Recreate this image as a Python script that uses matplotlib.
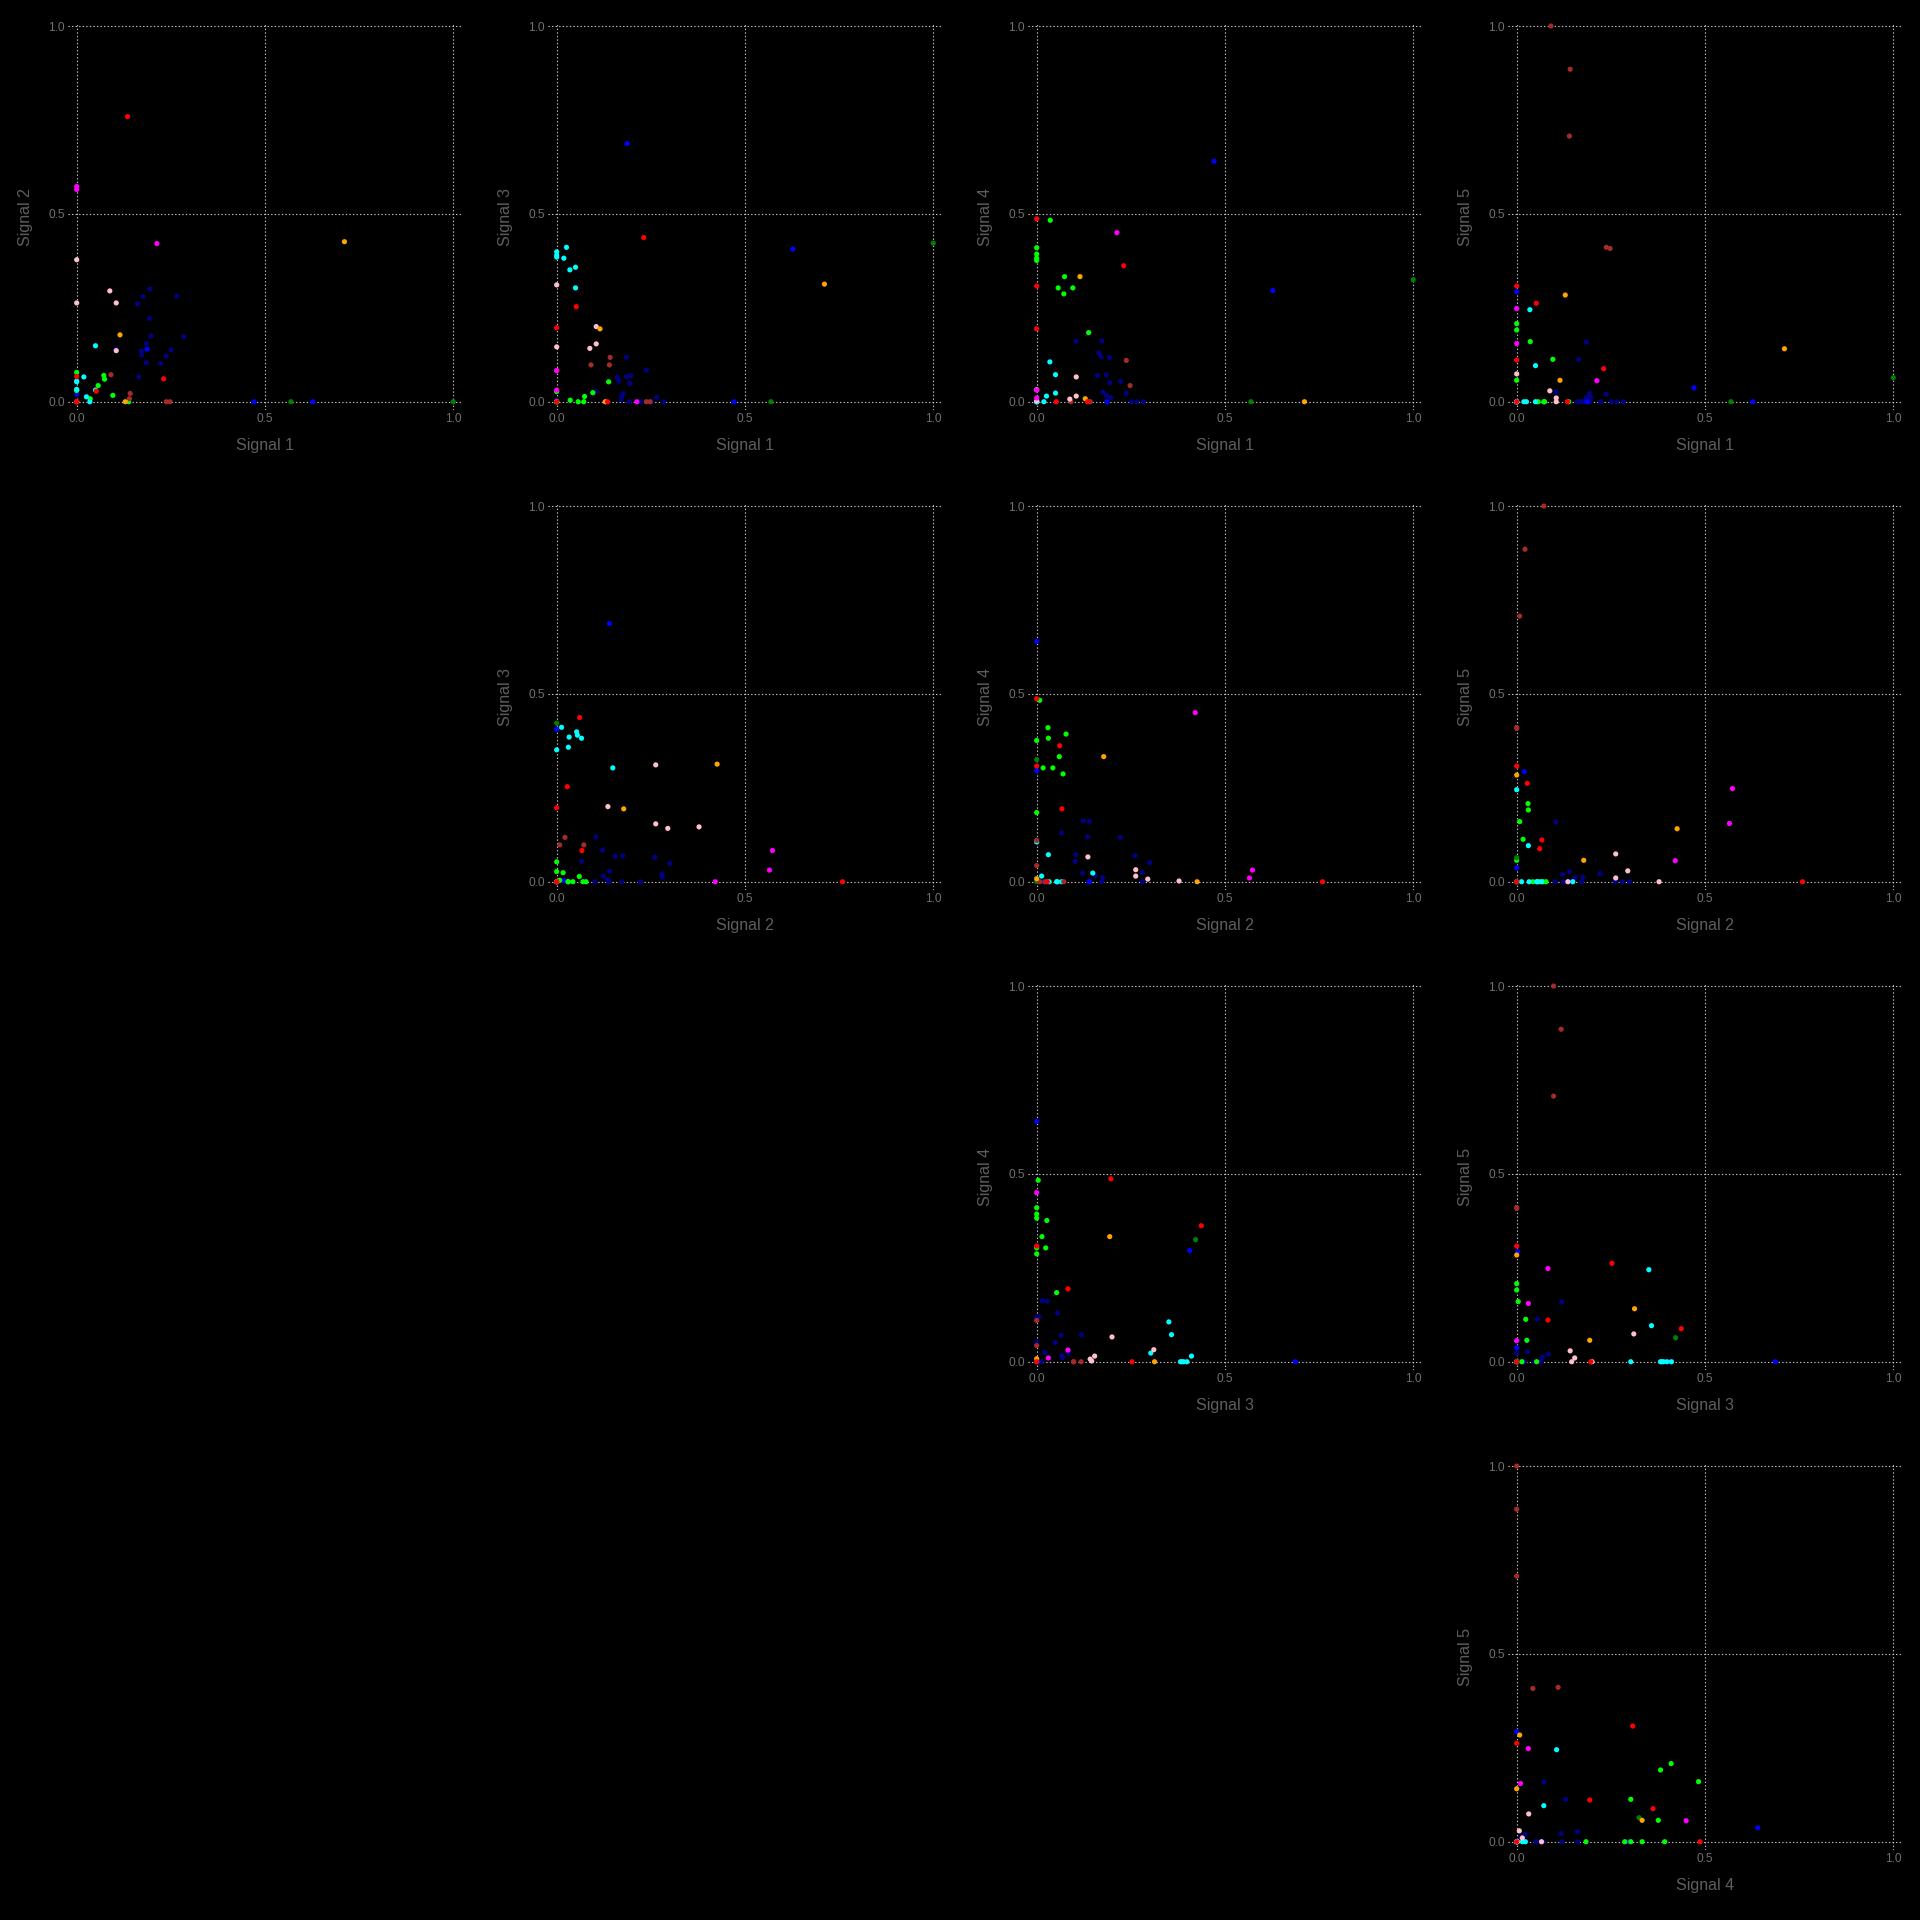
import matplotlib
matplotlib.use("Agg")
import matplotlib.pyplot as plt

# ---- data: one entry per observation (five signals + category colour) ----
categories = (["navy"] * 16 + ["blue"] * 4 + ["lime"] * 10 + ["green"] * 2 +
              ["cyan"] * 8 + ["brown"] * 5 + ["pink"] * 5 + ["orange"] * 3 +
              ["red"] * 6 + ["magenta"] * 3)

signal1 = [0.194, 0.176, 0.266, 0.161, 0.193, 0.197, 0.284, 0.185, 0.171, 0.173, 0.251, 0.238, 0.185, 0.223, 0.165, 0.104,
           0.187, 0.627, 0.471, 0.000,
           0.036, 0.074, 0.057, 0.072, 0.096, 0.138, 0.000, 0.000, 0.000, 0.000,
           0.569, 1.000,
           0.035, 0.050, 0.050, 0.026, 0.019, 0.000, 0.000, 0.000,
           0.091, 0.142, 0.140, 0.238, 0.248,
           0.000, 0.000, 0.105, 0.088, 0.105,
           0.711, 0.115, 0.129,
           0.135, 0.231, 0.052, 0.000, 0.000, 0.000,
           0.000, 0.000, 0.213]

signal2 = [0.300, 0.280, 0.281, 0.261, 0.222, 0.175, 0.173, 0.155, 0.135, 0.124, 0.138, 0.122, 0.104, 0.102, 0.066, 0.140,
           0.140, 0.000, 0.000, 0.020,
           0.008, 0.060, 0.043, 0.070, 0.017, 0.000, 0.030, 0.031, 0.000, 0.078,
           0.000, 0.000,
           0.000, 0.031, 0.149, 0.013, 0.066, 0.033, 0.053, 0.055,
           0.072, 0.022, 0.008, 0.000, 0.000,
           0.378, 0.263, 0.263, 0.295, 0.136,
           0.426, 0.178, 0.000,
           0.759, 0.061, 0.028, 0.067, 0.000, 0.000,
           0.573, 0.565, 0.421]

signal3 = [0.049, 0.021, 0.012, 0.065, 0.000, 0.069, 0.000, 0.067, 0.006, 0.015, 0.000, 0.084, 0.119, 0.000, 0.055, 0.028,
           0.687, 0.406, 0.000, 0.003,
           0.004, 0.014, 0.000, 0.000, 0.024, 0.053, 0.000, 0.000, 0.027, 0.000,
           0.000, 0.422,
           0.351, 0.358, 0.303, 0.411, 0.382, 0.385, 0.399, 0.390,
           0.098, 0.118, 0.098, 0.000, 0.000,
           0.146, 0.311, 0.154, 0.142, 0.200,
           0.313, 0.194, 0.000,
           0.000, 0.437, 0.253, 0.083, 0.197, 0.000,
           0.083, 0.031, 0.000]

signal4 = [0.051, 0.025, 0.000, 0.070, 0.118, 0.011, 0.000, 0.016, 0.120, 0.162, 0.000, 0.023, 0.072, 0.054, 0.130, 0.161,
           0.000, 0.296, 0.640, 0.000,
           0.483, 0.333, 0.303, 0.287, 0.303, 0.184, 0.410, 0.382, 0.376, 0.393,
           0.000, 0.325,
           0.106, 0.072, 0.023, 0.015, 0.000, 0.000, 0.000, 0.000,
           0.000, 0.000, 0.000, 0.110, 0.043,
           0.002, 0.032, 0.015, 0.007, 0.066,
           0.000, 0.333, 0.008,
           0.000, 0.362, 0.000, 0.194, 0.487, 0.308,
           0.031, 0.010, 0.450]

signal5 = [0.000, 0.000, 0.000, 0.000, 0.022, 0.012, 0.000, 0.011, 0.000, 0.000, 0.000, 0.020, 0.159, 0.000, 0.113, 0.027,
           0.000, 0.000, 0.037, 0.293,
           0.160, 0.000, 0.000, 0.000, 0.113, 0.000, 0.208, 0.191, 0.057, 0.000,
           0.000, 0.064,
           0.245, 0.096, 0.000, 0.000, 0.000, 0.000, 0.000, 0.000,
           1.000, 0.885, 0.707, 0.411, 0.408,
           0.000, 0.074, 0.010, 0.029, 0.000,
           0.141, 0.057, 0.284,
           0.000, 0.088, 0.262, 0.111, 0.000, 0.308,
           0.248, 0.155, 0.056]

signal_names = ["Signal 1", "Signal 2", "Signal 3", "Signal 4", "Signal 5"]
tick_values = [0.0, 0.5, 1.0]
tick_labels = ["0.0", "0.5", "1.0"]

palette = {"navy": "#000080", "blue": "#0000ff", "lime": "#00ff00", "green": "#008000",
           "cyan": "#00ffff", "brown": "#a52a2a", "pink": "#ffc0cb", "orange": "#ffa500",
           "red": "#ff0000", "magenta": "#ff00ff"}

signals = [signal1, signal2, signal3, signal4, signal5]
point_colors = [palette[c] for c in categories]

# ---- figure ----
W = 1920
fig = plt.figure(figsize=(19.2, 19.2), dpi=100, facecolor="black")
plt.rcParams["font.family"] = ["Liberation Sans", "DejaVu Sans"]

cell = 480
ax_left, ax_right, ax_top, ax_bottom = 68.4, 460.8, 23.4, 410.0

for i in range(4):              # x signal index (row)
    for j in range(i + 1, 5):   # y signal index (column)
        col = j - 1
        row = i
        left = (ax_left + cell * col) / W
        bottom = 1 - (ax_bottom + cell * row) / W
        ax = fig.add_axes([left, bottom, (ax_right - ax_left) / W, (ax_bottom - ax_top) / W])
        ax.set_facecolor("black")
        for s in ax.spines.values():
            s.set_visible(False)
        ax.set_xlim(-0.022, 1.020)
        ax.set_ylim(-0.022, 1.007)
        ax.set_xticks(tick_values)
        ax.set_xticklabels(tick_labels)
        ax.set_yticks(tick_values)
        ax.set_yticklabels(tick_labels)
        ax.tick_params(length=0, colors="#707070", labelsize=8.6, pad=2.5)
        ax.grid(True, color="#c8c8c8", linewidth=0.8, linestyle=(0, (1.2, 2.0)))
        ax.set_axisbelow(True)
        ax.scatter(signals[i], signals[j], s=14, c=point_colors, linewidths=0, zorder=3)
        ax.set_xlabel(signal_names[i], color="#5e5e5e", fontsize=11.5, labelpad=9)
        ax.set_ylabel(signal_names[j], color="#5e5e5e", fontsize=11.5, labelpad=11)

fig.savefig("out.png", dpi=100, facecolor="black")
